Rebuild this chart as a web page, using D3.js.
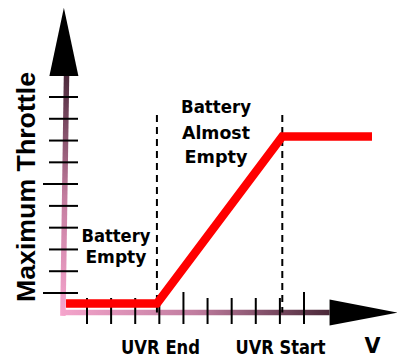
<!DOCTYPE html>
<html>
<head>
<meta charset="utf-8">
<script src="https://cdn.jsdelivr.net/npm/d3@7/dist/d3.min.js"></script>
<style>
  html, body { margin: 0; padding: 0; background: #fff; }
  svg { display: block; }
</style>
</head>
<body>
<svg id="chart" width="397" height="359"></svg>
<script>
// Tick positions along both axes (unlabelled)
const voltageTicks = [1, 2, 3, 4, 5, 6, 7, 8, 9, 10];
const throttleTicks = [1, 2, 3, 4, 5, 6, 7, 8, 9, 10];

// Throttle limit profile against battery voltage
const profileVoltage = [0.13, 3.9, 9.1, 12.82];
const profileThrottle = [0.52, 0.52, 8.19, 8.19];

// Threshold markers and where their names sit along the voltage axis
const thresholdNames = ["UVR End", "UVR Start"];
const thresholdVoltage = [3.9, 9.1];
const thresholdLabelVoltage = [4.05, 9.03];

// Region annotations
const regionLines = [["Battery", "Empty"], ["Battery", "Almost", "Empty"]];
const regionVoltage = [2.2, 6.35];

const axisTitleY = "Maximum Throttle";
const axisTitleX = "V";

const svg = d3.select("#chart");

const x = d3.scaleLinear().domain([1, 10]).range([87, 304]);
const y = d3.scaleLinear().domain([1, 10]).range([293, 97]);

// Axis extents in data units
const xAxisFrom = -0.05, xArrowBase = 11.06, xArrowTip = 13.9;
const yAxisFrom = -0.05, yArrowBase = 10.97, yArrowTip = 14.1;

const defs = svg.append("defs");
const gy = defs.append("linearGradient").attr("id", "gradY")
  .attr("gradientUnits", "userSpaceOnUse")
  .attr("x1", 0).attr("x2", 0).attr("y1", y(yAxisFrom)).attr("y2", y(yArrowBase));
gy.append("stop").attr("offset", 0).attr("stop-color", "#f8a6cf");
gy.append("stop").attr("offset", 0.5).attr("stop-color", "#c27c9e");
gy.append("stop").attr("offset", 1).attr("stop-color", "#4d2a3c");

const gx = defs.append("linearGradient").attr("id", "gradX")
  .attr("gradientUnits", "userSpaceOnUse")
  .attr("y1", 0).attr("y2", 0).attr("x1", x(xAxisFrom)).attr("x2", x(xArrowBase));
gx.append("stop").attr("offset", 0).attr("stop-color", "#f4a4cb");
gx.append("stop").attr("offset", 0.5).attr("stop-color", "#c07d9f");
gx.append("stop").attr("offset", 1).attr("stop-color", "#4a2838");

// Y axis shaft
svg.append("line")
  .attr("x1", x(0.0)).attr("y1", y(yAxisFrom))
  .attr("x2", x(0.15)).attr("y2", y(yArrowBase))
  .attr("stroke", "url(#gradY)").attr("stroke-width", 5.5);

// X axis shaft
const xAxisY = y(0.1);
svg.append("line")
  .attr("x1", x(xAxisFrom)).attr("y1", xAxisY)
  .attr("x2", x(xArrowBase)).attr("y2", xAxisY)
  .attr("stroke", "url(#gradX)").attr("stroke-width", 5.5);

// Y ticks
svg.append("g").selectAll("line").data(throttleTicks).join("line")
  .attr("x1", (d, i) => (i === 0 || i === 5) ? 43 : 49)
  .attr("x2", 78)
  .attr("y1", d => y(d)).attr("y2", d => y(d))
  .attr("stroke", "#000").attr("stroke-width", 2);

// X ticks
svg.append("g").selectAll("line").data(voltageTicks).join("line")
  .attr("x1", d => x(d)).attr("x2", d => x(d))
  .attr("y1", (d, i) => (i === 4 || i === 9) ? 292 : 298)
  .attr("y2", 324)
  .attr("stroke", "#000").attr("stroke-width", 2);

// Arrowheads
const yTipX = x(0.0) + 1;
svg.append("path")
  .attr("d", `M${yTipX},${y(yArrowTip)} L${yTipX + 14.5},${y(yArrowBase)} L${yTipX - 14.5},${y(yArrowBase)} Z`)
  .attr("fill", "#000");
svg.append("path")
  .attr("d", `M${x(xArrowTip)},${xAxisY} L${x(xArrowBase)},${xAxisY - 13} L${x(xArrowBase)},${xAxisY + 13} Z`)
  .attr("fill", "#000");

// Threshold dashed lines
svg.append("g").selectAll("line").data(thresholdVoltage).join("line")
  .attr("x1", d => x(d)).attr("x2", d => x(d))
  .attr("y1", 115).attr("y2", xAxisY)
  .attr("stroke", "#000").attr("stroke-width", 2)
  .attr("stroke-dasharray", "7,5");

// Throttle profile
const pts = profileVoltage.map((v, i) => [v, profileThrottle[i]]);
svg.append("path")
  .datum(pts)
  .attr("d", d3.line().x(d => x(d[0])).y(d => y(d[1])))
  .attr("fill", "none").attr("stroke", "#ff0000")
  .attr("stroke-width", 8.5).attr("stroke-linejoin", "miter");

// Region labels
const labelFont = "'DejaVu Sans', Verdana, sans-serif";
const regionLineWidths = [[69, 61], [70, 68, 63]];
const regionBaselines = [[242, 263], [113, 138.5, 163]];
regionLines.forEach((lines, r) => {
  lines.forEach((t, k) => {
    svg.append("text")
      .attr("x", x(regionVoltage[r]))
      .attr("y", regionBaselines[r][k])
      .attr("text-anchor", "middle")
      .attr("font-family", labelFont).attr("font-weight", "bold")
      .attr("font-size", 17)
      .attr("textLength", regionLineWidths[r][k])
      .attr("lengthAdjust", "spacingAndGlyphs")
      .attr("fill", "#000")
      .text(t);
  });
});

// Threshold names under the axis
const thresholdWidths = [79, 90];
thresholdNames.forEach((t, i) => {
  svg.append("text")
    .attr("x", x(thresholdLabelVoltage[i]))
    .attr("y", 354)
    .attr("text-anchor", "middle")
    .attr("font-family", labelFont).attr("font-weight", "bold")
    .attr("font-size", 20)
    .attr("textLength", thresholdWidths[i])
    .attr("lengthAdjust", "spacingAndGlyphs")
    .attr("fill", "#000")
    .text(t);
});

// Axis titles
svg.append("text")
  .attr("x", 372.5).attr("y", 353)
  .attr("text-anchor", "middle")
  .attr("font-family", labelFont).attr("font-weight", "bold")
  .attr("font-size", 21)
  .attr("textLength", 16).attr("lengthAdjust", "spacingAndGlyphs")
  .text(axisTitleX);

svg.append("text")
  .attr("transform", "translate(34.5,187) rotate(-90)")
  .attr("text-anchor", "middle")
  .attr("font-family", "'Liberation Sans', Arial, sans-serif").attr("font-weight", "bold")
  .attr("font-size", 26)
  .attr("textLength", 230).attr("lengthAdjust", "spacingAndGlyphs")
  .text(axisTitleY);
</script>
</body>
</html>
